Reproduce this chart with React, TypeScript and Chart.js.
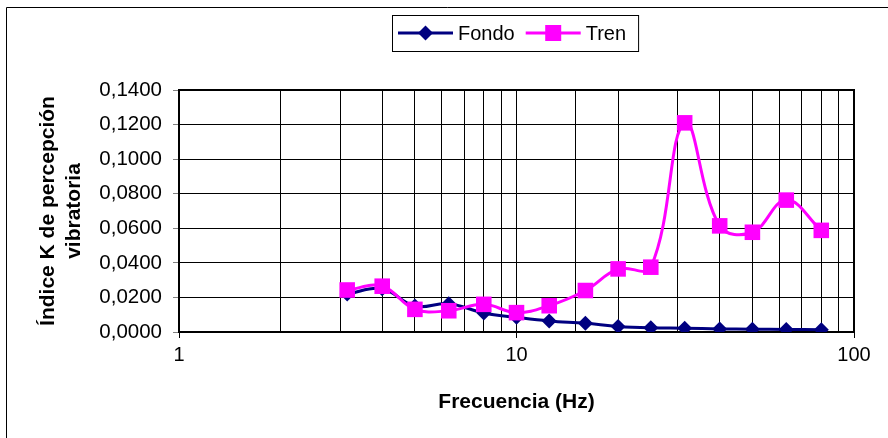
import { useEffect, useRef } from 'react';
import { Chart, registerables } from 'chart.js';

Chart.register(...registerables);

const frequencies = [3.15, 4, 5, 6.3, 8, 10, 12.5, 16, 20, 25, 31.5, 40, 50, 63, 80];
const fondo = [0.022, 0.025, 0.015, 0.0164, 0.011, 0.0085, 0.0064, 0.005, 0.0032, 0.0024, 0.0022, 0.0018, 0.0016, 0.0015, 0.0013];
const tren = [0.0243, 0.0265, 0.0131, 0.0123, 0.016, 0.0112, 0.0152, 0.024, 0.0365, 0.0375, 0.121, 0.0614, 0.0577, 0.0763, 0.0588];
const xTickValues = [1, 10, 100];
const yMin = 0;
const yMax = 0.14;
const yStep = 0.02;
const seriesNames = ['Fondo', 'Tren'];
const seriesColors = ['#000080', '#FF00FF'];
const xTitle = 'Frecuencia (Hz)';
const yTitle = ['Índice K de percepción', 'vibratoria'];

const FONT = "'Liberation Sans', Arial, Helvetica, sans-serif";

function drawMarker(ctx: CanvasRenderingContext2D, style: string, x: number, y: number, color: string) {
  ctx.fillStyle = color;
  ctx.beginPath();
  if (style === 'rectRot') {
    const r = 7.5;
    ctx.moveTo(x, y - r);
    ctx.lineTo(x + r, y);
    ctx.lineTo(x, y + r);
    ctx.lineTo(x - r, y);
    ctx.closePath();
  } else {
    const h = 8;
    ctx.rect(x - h, y - h, 2 * h, 2 * h);
  }
  ctx.fill();
}

const framePlugin = {
  id: 'frameAndLegend',
  beforeDatasetsDraw(chart: any) {
    const { ctx, chartArea } = chart;
    ctx.save();
    ctx.strokeStyle = '#000';
    ctx.lineWidth = 2;
    ctx.strokeRect(chartArea.left, chartArea.top, chartArea.right - chartArea.left, chartArea.bottom - chartArea.top);
    ctx.restore();
  },
  afterDraw(chart: any) {
    const ctx: CanvasRenderingContext2D = chart.ctx;
    ctx.save();
    // outer frame (left and top)
    ctx.strokeStyle = '#000';
    ctx.lineWidth = 1;
    ctx.beginPath();
    ctx.moveTo(6.5, 438);
    ctx.lineTo(6.5, 7.5);
    ctx.lineTo(888, 7.5);
    ctx.stroke();

    // legend
    ctx.font = `20px ${FONT}`;
    const styles = ['rectRot', 'rect'];
    const lineLen = 55;
    const left = 392;
    const top = 15;
    const height = 36;
    const cy = top + height / 2;
    let x = left + 6;
    const positions: number[] = [];
    seriesNames.forEach((name, i) => {
      positions.push(x);
      x += lineLen + 5 + ctx.measureText(name).width;
      if (i < seriesNames.length - 1) x += 11;
    });
    const right = x + 12;
    ctx.lineWidth = 1;
    ctx.strokeStyle = '#000';
    ctx.strokeRect(left + 0.5, top + 0.5, right - left, height);
    seriesNames.forEach((name, i) => {
      const px = positions[i];
      ctx.strokeStyle = seriesColors[i];
      ctx.lineWidth = 3;
      ctx.beginPath();
      ctx.moveTo(px, cy);
      ctx.lineTo(px + lineLen, cy);
      ctx.stroke();
      drawMarker(ctx, styles[i], px + lineLen / 2, cy, seriesColors[i]);
      ctx.fillStyle = '#000';
      ctx.textBaseline = 'middle';
      ctx.textAlign = 'left';
      ctx.fillText(name, px + lineLen + 5, cy + 1);
    });
    ctx.restore();
  },
};

export default function App() {
  const canvasRef = useRef<HTMLCanvasElement | null>(null);

  useEffect(() => {
    if (!canvasRef.current) return;
    Chart.defaults.font.family = FONT;
    const chart = new Chart(canvasRef.current, {
      type: 'line',
      data: {
        datasets: [
          {
            label: seriesNames[0],
            data: frequencies.map((f, i) => ({ x: f, y: fondo[i] })),
            borderColor: seriesColors[0],
            backgroundColor: seriesColors[0],
            borderWidth: 3,
            pointStyle: 'rectRot',
            pointRadius: 7.5,
            pointBorderWidth: 0,
            tension: 0.4,
            order: 1,
          },
          {
            label: seriesNames[1],
            data: frequencies.map((f, i) => ({ x: f, y: tren[i] })),
            borderColor: seriesColors[1],
            backgroundColor: seriesColors[1],
            borderWidth: 3,
            pointStyle: 'rect',
            pointRadius: 11,
            pointBorderWidth: 0,
            tension: 0.4,
            order: 0,
          },
        ],
      },
      options: {
        animation: false,
        responsive: false,
        devicePixelRatio: 1,
        layout: { padding: { left: 0, top: 90, right: 34, bottom: 0 } },
        plugins: { legend: { display: false }, tooltip: { enabled: false } },
        scales: {
          x: {
            type: 'logarithmic',
            min: 1,
            max: 100,
            afterFit: (s: any) => {
              s.height = 106;
            },
            ticks: {
              autoSkip: false,
              maxRotation: 0,
              padding: 5,
              color: '#000',
              font: { size: 20 },
              callback: (v: any) => (xTickValues.includes(Number(v)) ? String(v) : ''),
            },
            grid: {
              color: '#000',
              lineWidth: 1,
              tickLength: 6,
              tickColor: (ctx: any) => (ctx.tick && xTickValues.includes(Number(ctx.tick.value)) ? '#000' : 'rgba(0,0,0,0)'),
            },
            border: { color: '#000', width: 2 },
            title: {
              display: true,
              text: xTitle,
              color: '#000',
              font: { size: 21, weight: 'bold' },
              padding: { top: 0, bottom: 23 },
            },
          },
          y: {
            min: yMin,
            max: yMax,
            afterFit: (s: any) => {
              s.width = 179;
            },
            ticks: {
              stepSize: yStep,
              color: '#000',
              font: { size: 20.5 },
              padding: 11,
              callback: (v: any) => Number(v).toFixed(4).replace('.', ','),
            },
            grid: { color: '#000', lineWidth: 1, tickLength: 6, tickColor: '#808080' },
            border: { color: '#000', width: 2 },
            title: {
              display: true,
              text: yTitle,
              color: '#000',
              font: { size: 21, weight: 'bold' },
              padding: { top: 36, bottom: 0 },
            },
          },
        },
      } as any,
      plugins: [framePlugin],
    });
    return () => chart.destroy();
  }, []);

  return (
    <div style={{ position: 'absolute', left: 0, top: 0, width: 888, height: 438, background: '#fff' }}>
      <canvas ref={canvasRef} width={888} height={438} style={{ display: 'block' }} />
    </div>
  );
}
